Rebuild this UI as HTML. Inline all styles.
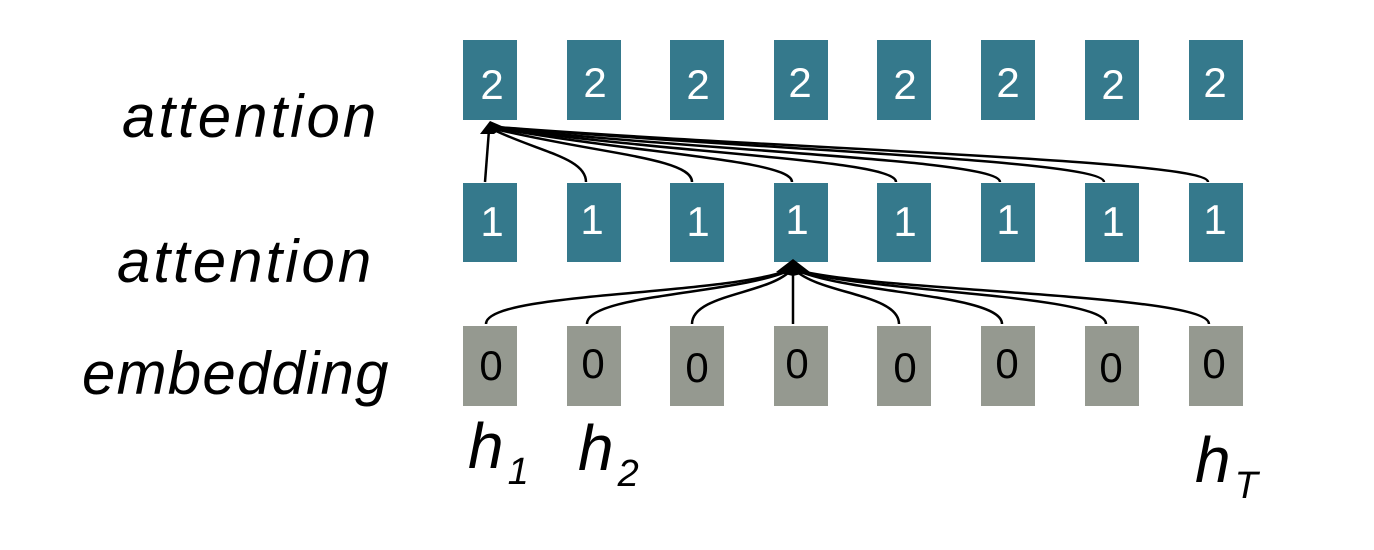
<!DOCTYPE html>
<html><head><style>
html,body{margin:0;padding:0;background:#fff;}
svg{display:block}
text{font-family:"Liberation Sans",sans-serif;}
</style></head><body>
<svg width="1374" height="550" viewBox="0 0 1374 550" xmlns="http://www.w3.org/2000/svg">
<g font-style="italic" font-size="60" fill="#000">
<text x="122" y="137" letter-spacing="3">attention</text>
<text x="117" y="282" letter-spacing="3">attention</text>
<text x="82" y="394" letter-spacing="1.2">embedding</text>
<text x="468" y="468" font-size="64">h<tspan font-size="38" dy="16" dx="4">1</tspan></text>
<text x="578" y="470" font-size="64">h<tspan font-size="38" dy="16" dx="4">2</tspan></text>
<text x="1195" y="482" font-size="64">h<tspan font-size="38" dy="16" dx="4">T</tspan></text>
</g>
<g id="boxes">
<g fill="#35798C">
<rect x="463" y="40" width="54" height="80"/><rect x="567" y="40" width="54" height="80"/><rect x="670" y="40" width="54" height="80"/><rect x="774" y="40" width="54" height="80"/><rect x="877" y="40" width="54" height="80"/><rect x="981" y="40" width="54" height="80"/><rect x="1085" y="40" width="54" height="80"/><rect x="1189" y="40" width="54" height="80"/>
<rect x="463" y="183" width="54" height="79"/><rect x="567" y="183" width="54" height="79"/><rect x="670" y="183" width="54" height="79"/><rect x="774" y="183" width="54" height="79"/><rect x="877" y="183" width="54" height="79"/><rect x="981" y="183" width="54" height="79"/><rect x="1085" y="183" width="54" height="79"/><rect x="1189" y="183" width="54" height="79"/>
</g>
<g fill="#959990">
<rect x="463" y="326" width="54" height="80"/><rect x="567" y="326" width="54" height="80"/><rect x="670" y="326" width="54" height="80"/><rect x="774" y="326" width="54" height="80"/><rect x="877" y="326" width="54" height="80"/><rect x="981" y="326" width="54" height="80"/><rect x="1085" y="326" width="54" height="80"/><rect x="1189" y="326" width="54" height="80"/>
</g>
<g font-size="42" fill="#fff" text-anchor="middle">
<text x="492" y="99">2</text><text x="595" y="97">2</text><text x="698" y="99">2</text><text x="800" y="97">2</text><text x="905" y="99">2</text><text x="1008" y="97">2</text><text x="1113" y="99">2</text><text x="1215" y="97">2</text>
<text x="492" y="236">1</text><text x="592" y="234">1</text><text x="698" y="236">1</text><text x="797" y="234">1</text><text x="905" y="236">1</text><text x="1008" y="234">1</text><text x="1113" y="236">1</text><text x="1215" y="234">1</text>
</g>
<g font-size="42" fill="#000" text-anchor="middle">
<text x="491" y="380">0</text><text x="593" y="378">0</text><text x="697" y="382">0</text><text x="797" y="378">0</text><text x="905" y="382">0</text><text x="1007" y="378">0</text><text x="1111" y="382">0</text><text x="1214" y="378">0</text>
</g>
</g>
<g fill="none" stroke="#000" stroke-width="2.5">
<path d="M485 182 L489 130"/>
<path d="M586 182 C586 158 540 152 494 130"/>
<path d="M692 182 C692 158 600 154 495 129"/>
<path d="M792 182 C792 160 640 154 496 128"/>
<path d="M896 182 C896 160 680 154 496 128"/>
<path d="M1000 182 C1000 160 720 152 496 128"/>
<path d="M1104 182 C1104 160 760 150 496 127"/>
<path d="M1208 182 C1208 160 800 150 496 127"/>
<path d="M486 324 C486 292 720 296 789 270"/>
<path d="M587 324 C587 294 740 294 790 270"/>
<path d="M692 324 C692 294 770 294 791 270"/>
<path d="M793 324 L793 270"/>
<path d="M899 324 C899 294 820 294 795 270"/>
<path d="M1002 324 C1002 294 850 294 796 270"/>
<path d="M1106 324 C1106 294 860 292 796 270"/>
<path d="M1209 324 C1209 294 880 292 796 270"/>
</g>
<polygon points="480,134 490,121 504,127 494,134" fill="#000"/>
<polygon points="776,272 793,259 810,272 793,276" fill="#000"/>
</svg>
</body></html>
